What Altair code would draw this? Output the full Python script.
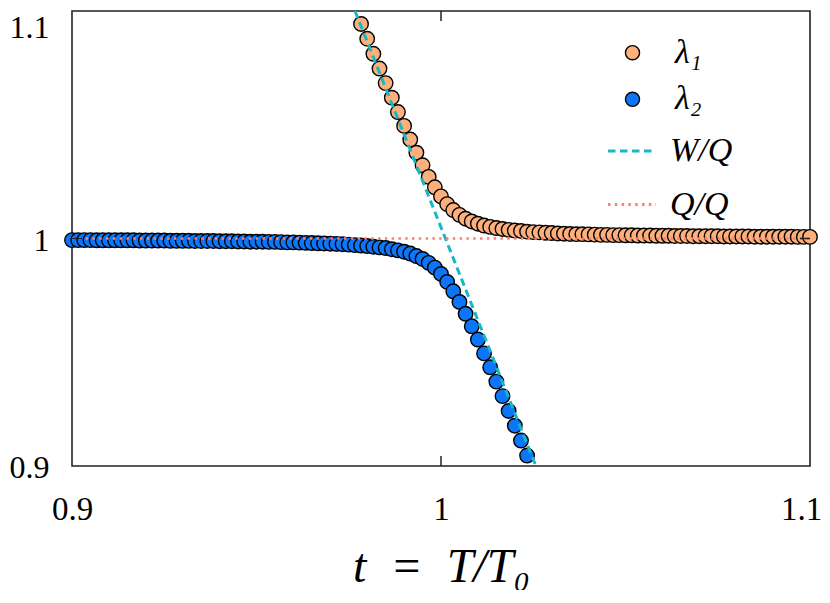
import altair as alt
import pandas as pd

# ---- data ----
t_values = [
    0.90000, 0.90167, 0.90333, 0.90500, 0.90667, 0.90833,
    0.91000, 0.91167, 0.91333, 0.91500, 0.91667, 0.91833,
    0.92000, 0.92167, 0.92333, 0.92500, 0.92667, 0.92833,
    0.93000, 0.93167, 0.93333, 0.93500, 0.93667, 0.93833,
    0.94000, 0.94167, 0.94333, 0.94500, 0.94667, 0.94833,
    0.95000, 0.95167, 0.95333, 0.95500, 0.95667, 0.95833,
    0.96000, 0.96167, 0.96333, 0.96500, 0.96667, 0.96833,
    0.97000, 0.97167, 0.97333, 0.97500, 0.97667, 0.97833,
    0.98000, 0.98167, 0.98333, 0.98500, 0.98667, 0.98833,
    0.99000, 0.99167, 0.99333, 0.99500, 0.99667, 0.99833,
    1.00000, 1.00167, 1.00333, 1.00500, 1.00667, 1.00833,
    1.01000, 1.01167, 1.01333, 1.01500, 1.01667, 1.01833,
    1.02000, 1.02167, 1.02333, 1.02500, 1.02667, 1.02833,
    1.03000, 1.03167, 1.03333, 1.03500, 1.03667, 1.03833,
    1.04000, 1.04167, 1.04333, 1.04500, 1.04667, 1.04833,
    1.05000, 1.05167, 1.05333, 1.05500, 1.05667, 1.05833,
    1.06000, 1.06167, 1.06333, 1.06500, 1.06667, 1.06833,
    1.07000, 1.07167, 1.07333, 1.07500, 1.07667, 1.07833,
    1.08000, 1.08167, 1.08333, 1.08500, 1.08667, 1.08833,
    1.09000, 1.09167, 1.09333, 1.09500, 1.09667, 1.09833,
    1.10000,
]

# lambda_1 : visible from t = 0.97833 to 1.1
lam1 = [
    1.0943, 1.0878, 1.0812, 1.0747, 1.0683, 1.0619, 1.0556, 1.0495, 1.0435,
    1.0377, 1.0322, 1.0271, 1.0225, 1.0185, 1.0151, 1.0125, 1.0104, 1.0087,
    1.0075, 1.0065, 1.0057, 1.0051, 1.0046, 1.0042, 1.0038, 1.0035, 1.0033,
    1.0030, 1.0028, 1.0027, 1.0025, 1.0024, 1.0022, 1.0021, 1.0020, 1.0019,
    1.0019, 1.0018, 1.0017, 1.0016, 1.0016, 1.0015, 1.0015, 1.0014, 1.0014,
    1.0013, 1.0013, 1.0013, 1.0012, 1.0012, 1.0012, 1.0011, 1.0011, 1.0011,
    1.0010, 1.0010, 1.0010, 1.0010, 1.0010, 1.0009, 1.0009, 1.0009, 1.0009,
    1.0009, 1.0008, 1.0008, 1.0008, 1.0008, 1.0008, 1.0008, 1.0008, 1.0007,
    1.0007, 1.0007,
]

# lambda_2 : visible from t = 0.9 to 1.02333
lam2 = [
    0.9993, 0.9993, 0.9993, 0.9993, 0.9992, 0.9992, 0.9992, 0.9992, 0.9992,
    0.9992, 0.9992, 0.9991, 0.9991, 0.9991, 0.9991, 0.9991, 0.9990, 0.9990,
    0.9990, 0.9990, 0.9989, 0.9989, 0.9989, 0.9989, 0.9988, 0.9988, 0.9988,
    0.9987, 0.9987, 0.9986, 0.9986, 0.9986, 0.9985, 0.9985, 0.9984, 0.9983,
    0.9983, 0.9982, 0.9981, 0.9980, 0.9979, 0.9978, 0.9977, 0.9976, 0.9975,
    0.9973, 0.9971, 0.9969, 0.9967, 0.9964, 0.9961, 0.9958, 0.9953, 0.9948,
    0.9942, 0.9934, 0.9923, 0.9910, 0.9893, 0.9872, 0.9844, 0.9809, 0.9768,
    0.9721, 0.9669, 0.9614, 0.9556, 0.9495, 0.9434, 0.9371, 0.9307, 0.9242,
    0.9177, 0.9112, 0.9046,
]

point_series = ["λ₁", "λ₂"]
point_colors = ["#FDB07C", "#0D75F8"]

line_series = ["W/Q", "Q/Q"]
line_colors = ["#17B8C6", "#FA8072"]
line_dashes = [[7.5, 4.5], [2.5, 4.3]]

wq_t = [0.9767, 1.0257]
wq_v = [1.1, 0.9]
qq_t = [0.9, 1.1]
qq_v = [1.0, 1.0]

tick_values = [0.9, 1.0, 1.1]
inner_tick = [1.0]

# ---- tables ----
pts = pd.concat([
    pd.DataFrame({"t": t_values[47:], "val": lam1, "s": point_series[0]}),
    pd.DataFrame({"t": t_values[:75], "val": lam2, "s": point_series[1]}),
], ignore_index=True)

wq_df = pd.DataFrame({"t": wq_t, "val": wq_v, "line": line_series[0]})
qq_df = pd.DataFrame({"t": qq_t, "val": qq_v, "line": line_series[1]})
tick_df = pd.DataFrame({"t": inner_tick, "val": inner_tick})

FONT = "Liberation Serif"
W, H = 738, 455
LBL = "datum.value == 1 ? '1' : format(datum.value, '.1f')"

xaxis = alt.Axis(
    values=tick_values, labelExpr=LBL,
    domain=False, ticks=False, tickSize=0, grid=False,
    labelFont=FONT, labelFontSize=33, labelColor="black", labelPadding=27,
    labelFlush=False, labelOverlap=False,
    labelOffset={"condition": {"test": "datum.value > 1.05", "value": -9}, "value": 0},
    title="t\u2002=\u2002T/T₀", titleFont=FONT, titleFontSize=48, titleFontStyle="italic",
    titleFontWeight="normal", titleColor="black", titleBaseline="alphabetic",
    titleY=115, titleX=W / 2, titleAlign="center",
)
yaxis = alt.Axis(
    values=tick_values, labelExpr=LBL,
    domain=False, ticks=False, tickSize=0, grid=False,
    labelFont=FONT, labelFontSize=32, labelColor="black", labelPadding=23,
    labelFlush=False, labelOverlap=False, labelBaseline="middle",
    labelOffset={"condition": {"test": "datum.value > 1.05", "value": 16}, "value": 1.5},
    title=None,
)

xs = alt.Scale(domain=[0.9, 1.1], nice=False, zero=False)
ys = alt.Scale(domain=[0.9, 1.1], nice=False, zero=False)
x_enc = alt.X("t:Q", scale=xs, axis=xaxis)
y_enc = alt.Y("val:Q", scale=ys, axis=yaxis)

pt_legend = alt.Legend(
    orient="none", legendX=543.5, legendY=24.7, title=None, padding=0,
    labelFont=FONT, labelFontSize=34, labelFontStyle="italic", labelColor="black",
    symbolType="circle", symbolSize=200, symbolStrokeColor="black",
    symbolStrokeWidth=1.4, symbolOpacity=1, labelOffset=25.5, rowPadding=12.6,
)
ln_legend = alt.Legend(
    orient="none", legendX=534.5, legendY=114.5, title=None, padding=0,
    labelFont=FONT, labelFontSize=34, labelFontStyle="italic", labelColor="black",
    symbolType="stroke", symbolSize=2304, symbolStrokeWidth=3,
    labelOffset=12.5, rowPadding=10.5,
)

points = alt.Chart(pts).mark_circle(
    size=210, stroke="black", strokeWidth=1.4, opacity=1
).encode(
    x=x_enc, y=y_enc,
    fill=alt.Fill("s:N", scale=alt.Scale(domain=point_series, range=point_colors),
                  legend=pt_legend),
)

stroke_enc = alt.Stroke("line:N", scale=alt.Scale(domain=line_series, range=line_colors),
                        legend=ln_legend)
dash_enc = alt.StrokeDash("line:N", scale=alt.Scale(domain=line_series, range=line_dashes),
                          legend=ln_legend)

wq_line = alt.Chart(wq_df).mark_line(strokeWidth=3, strokeCap="butt").encode(
    x=x_enc, y=y_enc, stroke=stroke_enc, strokeDash=dash_enc)
qq_line = alt.Chart(qq_df).mark_line(strokeWidth=2.6, strokeCap="butt").encode(
    x=x_enc, y=y_enc, stroke=stroke_enc, strokeDash=dash_enc)

TK = dict(color="#222222", strokeWidth=1.5)
tick_b = alt.Chart(tick_df).mark_rule(**TK).encode(x=x_enc, y=alt.value(H), y2=alt.value(H - 10))
tick_t = alt.Chart(tick_df).mark_rule(**TK).encode(x=x_enc, y=alt.value(0), y2=alt.value(10))
tick_l = alt.Chart(tick_df).mark_rule(**TK).encode(y=y_enc, x=alt.value(0), x2=alt.value(10))
tick_r = alt.Chart(tick_df).mark_rule(**TK).encode(y=y_enc, x=alt.value(W), x2=alt.value(W - 10))

chart = alt.layer(points, wq_line, qq_line, tick_b, tick_t, tick_l, tick_r).properties(
    width=W, height=H,
    autosize=alt.AutoSizeParams(type="none"),
    padding={"left": 64, "top": 3, "right": 12, "bottom": 124},
    background="white",
).configure_view(stroke="#222222", strokeWidth=1.6)

chart.save("out.html", embed_options={"renderer": "svg", "actions": False})
